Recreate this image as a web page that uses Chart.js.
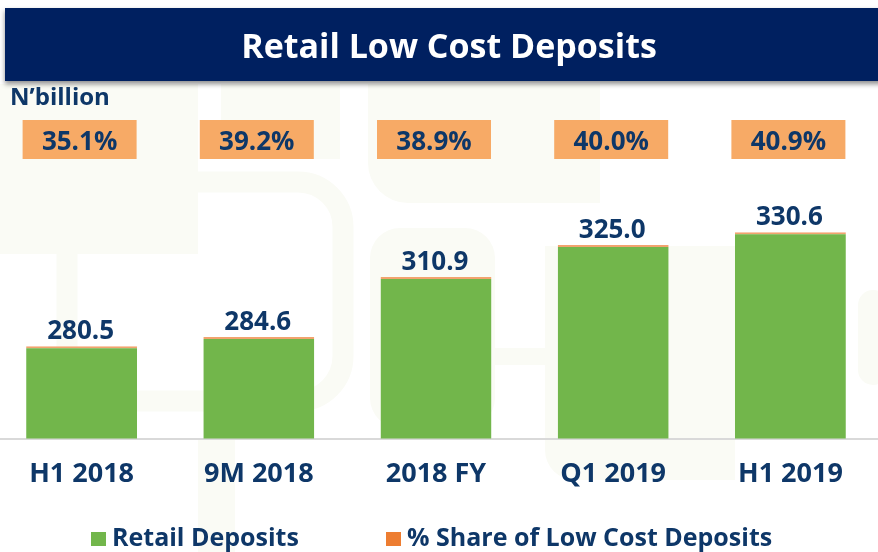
<!DOCTYPE html>
<html>
<head>
<meta charset="utf-8">
<script src="https://cdn.jsdelivr.net/npm/chart.js@4.4.0/dist/chart.umd.min.js"></script>
<style>
  html, body { margin: 0; padding: 0; background: #fff; overflow: hidden; }
  #wrap { position: relative; width: 878px; height: 552px; overflow: hidden; }
  #chart { position: absolute; left: -7px; top: 0; }
</style>
</head>
<body>
<div id="wrap"><canvas id="chart" width="886" height="552"></canvas></div>
<script>
const periods = ["H1 2018", "9M 2018", "2018 FY", "Q1 2019", "H1 2019"];
const retailDeposits = [280.5, 284.6, 310.9, 325.0, 330.6];
const lowCostShare = [35.1, 39.2, 38.9, 40.0, 40.9];

const NAVY = "#0E3768";
const FONT = "'Open Sans', sans-serif";
// canvas sits 7px left of the page so bar centres line up
const OX = 7;

const decor = {
  id: "decor",
  beforeDraw(chart) {
    const ctx = chart.ctx;
    ctx.save();
    ctx.translate(OX, 0);
    // faint watermark shapes in the background
    ctx.fillStyle = "#FAFBF5";
    ctx.fillRect(0, 84, 198, 170);
    ctx.fillRect(221, 84, 119, 75);
    ctx.beginPath();
    ctx.roundRect(368, 84, 232, 119, [0, 0, 0, 40]);
    ctx.fill();
    ctx.beginPath();
    ctx.roundRect(370, 228, 125, 200, 30);
    ctx.fill();
    ctx.beginPath();
    ctx.roundRect(545, 246, 190, 234, [0, 0, 0, 30]);
    ctx.fill();
    ctx.fillRect(438, 348, 107, 17);
    ctx.beginPath();
    ctx.roundRect(858, 290, 30, 95, 20);
    ctx.fill();
    ctx.fillRect(198, 440, 37, 112);
    ctx.strokeStyle = "#FAFBF5";
    ctx.lineWidth = 21;
    ctx.beginPath();
    ctx.roundRect(67, 182, 276, 219, 45);
    ctx.stroke();
    ctx.restore();
  },
  afterDraw(chart) {
    const ctx = chart.ctx;
    ctx.save();

    // title banner
    ctx.save();
    ctx.shadowColor = "rgba(0,0,0,0.45)";
    ctx.shadowBlur = 5;
    ctx.shadowOffsetY = 3;
    ctx.fillStyle = "#002060";
    ctx.fillRect(5 + OX, 8, 890, 73);
    ctx.restore();
    ctx.fillStyle = "#fff";
    ctx.font = `bold 34px ${FONT}`;
    ctx.textAlign = "center";
    ctx.textBaseline = "alphabetic";
    ctx.fillText("Retail Low Cost Deposits", 449 + OX, 58);

    // unit label
    ctx.fillStyle = NAVY;
    ctx.font = `bold 24px ${FONT}`;
    ctx.textAlign = "left";
    ctx.fillText("N\u2019billion", 10 + OX, 105);

    // value labels above bars
    const barMeta = chart.getDatasetMeta(0);
    ctx.textAlign = "center";
    ctx.font = `bold 26px ${FONT}`;
    barMeta.data.forEach((el, i) => {
      ctx.fillStyle = NAVY;
      ctx.fillText(retailDeposits[i].toFixed(1), el.x - 1, el.y - 7);
    });

    // % share boxes
    const pctMeta = chart.getDatasetMeta(1);
    ctx.font = `bold 26px ${FONT}`;
    pctMeta.data.forEach((el, i) => {
      const x = el.x - 2;
      ctx.fillStyle = "#F7AA66";
      ctx.fillRect(x - 57, 120, 114, 39);
      ctx.fillStyle = NAVY;
      ctx.fillText(lowCostShare[i].toFixed(1) + "%", x, 150);
    });

    // legend
    const items = [
      { x: 91, ds: chart.data.datasets[0] },
      { x: 386, ds: chart.data.datasets[1] },
    ];
    ctx.font = `bold 25px ${FONT}`;
    ctx.textAlign = "left";
    items.forEach(it => {
      ctx.fillStyle = it.ds.legendColor;
      ctx.fillRect(it.x + OX, 532, 15, 14);
      ctx.fillStyle = NAVY;
      ctx.fillText(it.ds.label, it.x + 21 + OX, 546);
    });

    ctx.restore();
  }
};

new Chart(document.getElementById("chart"), {
  type: "bar",
  data: {
    labels: periods,
    datasets: [
      {
        label: "Retail Deposits",
        data: retailDeposits,
        backgroundColor: "#72B64B",
        legendColor: "#72B64B",
        borderColor: "#F2A36E",
        borderWidth: { top: 2, right: 0, bottom: 0, left: 0 },
        borderSkipped: false,
        barPercentage: 0.626,
        categoryPercentage: 1,
      },
      {
        type: "line",
        label: "% Share of Low Cost Deposits",
        data: lowCostShare,
        yAxisID: "yPct",
        showLine: false,
        pointRadius: 0,
        backgroundColor: "#ED7D31",
        legendColor: "#ED7D31",
      },
    ],
  },
  options: {
    responsive: false,
    animation: false,
    devicePixelRatio: 1,
    layout: { padding: { top: 74, bottom: 41, left: 0, right: 0 } },
    plugins: {
      legend: { display: false },
      tooltip: { enabled: false },
    },
    scales: {
      x: {
        grid: { display: false, drawTicks: false },
        border: { display: true, color: "#D9D9D9", width: 2 },
        ticks: {
          color: NAVY,
          font: { family: FONT, size: 27, weight: "bold" },
          padding: 20,
          maxRotation: 0,
          autoSkip: false,
        },
      },
      y: { display: false, min: 240, max: 400 },
      yPct: { display: false, min: 0, max: 100 },
    },
  },
  plugins: [decor],
});
</script>
</body>
</html>
